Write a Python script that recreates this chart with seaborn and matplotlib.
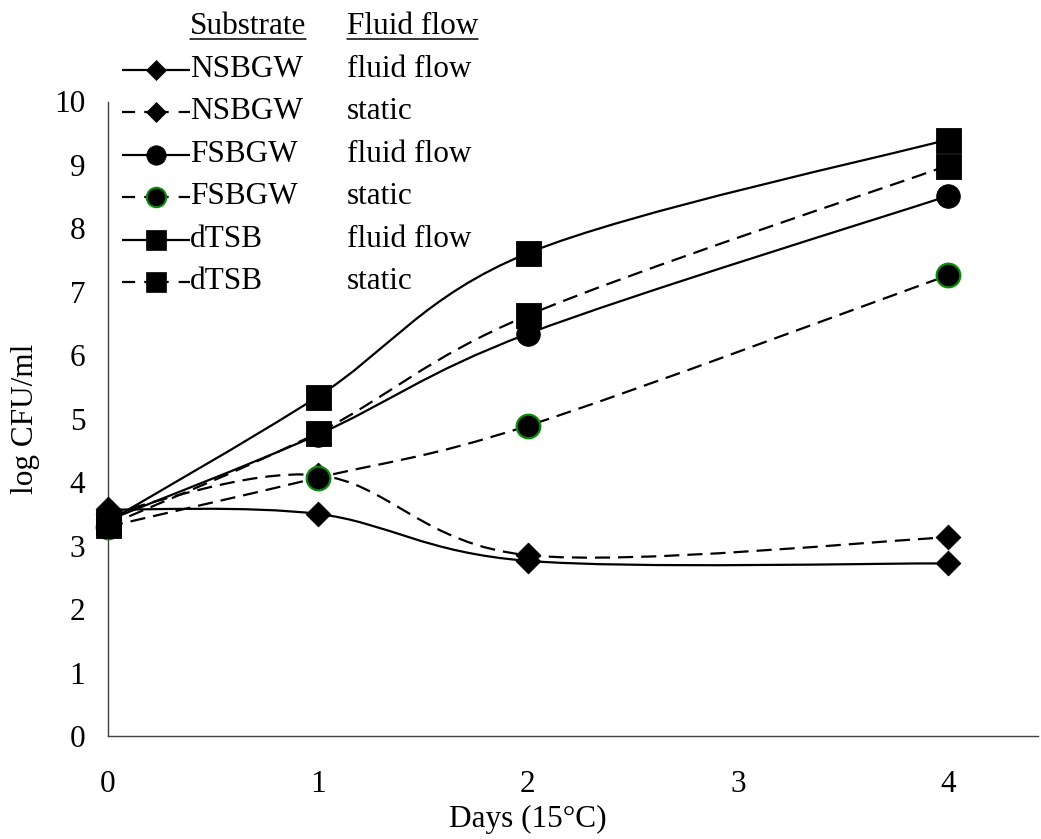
import numpy as np
import pandas as pd
import matplotlib
matplotlib.use("Agg")
import matplotlib.pyplot as plt
import seaborn as sns
from matplotlib.path import Path
from matplotlib.patches import PathPatch
from matplotlib.lines import Line2D

# ---------------- data ----------------
days = [0, 1, 2, 4]
substrates = ["NSBGW", "NSBGW", "FSBGW", "FSBGW", "dTSB", "dTSB"]
flows = ["fluid flow", "static", "fluid flow", "static", "fluid flow", "static"]
nsbgw_flow = [3.57, 3.50, 2.76, 2.72]
nsbgw_static = [3.50, 4.11, 2.85, 3.13]
fsbgw_flow = [3.40, 4.75, 6.34, 8.51]
fsbgw_static = [3.30, 4.07, 4.89, 7.26]
dtsb_flow = [3.38, 5.35, 7.61, 9.40]
dtsb_static = [3.32, 4.78, 6.63, 8.99]
series_values = [nsbgw_flow, nsbgw_static, fsbgw_flow, fsbgw_static, dtsb_flow, dtsb_static]
x_ticks = [0, 1, 2, 3, 4]
y_ticks = list(range(0, 11))
x_label = "Days (15°C)"
y_label = "log CFU/ml"
legend_headers = ["Substrate", "Fluid flow"]

# ---------------- styles ----------------
LW = 1.6
DASH = (0, (6.8, 3.6))
styles = [
    dict(marker="D", s=12.6 ** 2, ec="black", ls="-", lm=9.8),
    dict(marker="D", s=12.6 ** 2, ec="black", ls=DASH, lm=9.8),
    dict(marker="o", s=17.0 ** 2, ec="black", ls="-", lm=14.0),
    dict(marker="o", s=17.0 ** 2, ec="#0a8a0a", ls=DASH, lm=14.0),
    dict(marker="s", s=18.0 ** 2, ec="black", ls="-", lm=14.0),
    dict(marker="s", s=18.0 ** 2, ec="black", ls=DASH, lm=14.0),
]

sns.set_theme(style="white")
plt.rcParams["font.family"] = ["Liberation Serif", "DejaVu Serif"]
FS = 22.5

W, H = 1041, 839
fig = plt.figure(figsize=(W / 100, H / 100), dpi=100)
fig.patch.set_facecolor("white")


def px(x, y):
    return x / W, 1 - y / H


ax_left, ax_right, ax_top, ax_bottom = 108, 1038, 101.5, 736
ax = fig.add_axes([ax_left / W, 1 - ax_bottom / H,
                   (ax_right - ax_left) / W, (ax_bottom - ax_top) / H])
ax.set_facecolor("white")


def smooth_path(xs, ys):
    pts = np.column_stack([np.asarray(xs, float), np.asarray(ys, float)])
    n = len(pts)
    verts = [pts[0]]
    codes = [Path.MOVETO]
    for i in range(n - 1):
        p0 = pts[i - 1] if i > 0 else pts[i]
        p1 = pts[i]
        p2 = pts[i + 1]
        p3 = pts[i + 2] if i + 2 < n else pts[i + 1]
        c1 = p1 + (p2 - p0) / 6.0
        c2 = p2 - (p3 - p1) / 6.0
        verts += [c1, c2, p2]
        codes += [Path.CURVE4] * 3
    return Path(verts, codes)


# smoothed lines
for vals, st in zip(series_values, styles):
    patch = PathPatch(smooth_path(days, vals), fill=False, lw=LW,
                      linestyle=st["ls"], edgecolor="black", zorder=2,
                      capstyle="butt")
    ax.add_patch(patch)

# markers
for vals, st in zip(series_values, styles):
    df = pd.DataFrame({"day": days, "cfu": vals})
    sns.scatterplot(data=df, x="day", y="cfu", marker=st["marker"], s=st["s"],
                    color="black", edgecolor=st["ec"],
                    linewidth=1.6 if st["ec"] != "black" else 0.6,
                    ax=ax, zorder=3, clip_on=False, legend=False)

ax.set_xlim(0, 4.43)
ax.set_ylim(0, 10)
ax.set_xticks(x_ticks)
ax.set_yticks(y_ticks)
ax.set_xticklabels([str(t) for t in x_ticks])
ax.set_yticklabels([str(t) for t in y_ticks])
sns.despine(ax=ax)
for side in ["left", "bottom"]:
    ax.spines[side].set_color("#404040")
    ax.spines[side].set_linewidth(1.0)
ax.tick_params(axis="both", direction="out", length=6.8, width=0.9,
               color="#808080", labelcolor="black", labelsize=FS)
ax.tick_params(axis="x", pad=18)
ax.tick_params(axis="y", pad=9.5)
ax.grid(False)

ax.set_xlabel(x_label, fontsize=FS, color="black")
ax.xaxis.set_label_coords(2 / 4.43, -0.108)
ax.set_ylabel(y_label, fontsize=FS, color="black")
ax.yaxis.set_label_coords(-0.073, 0.5)

# ---------------- custom legend ----------------
col1_x, col2_x = 190, 347
header_base = 34
row_y = [70, 112.4, 154.8, 197.2, 239.6, 282]
line_x0, line_x1, mark_x = 122, 190, 156
LEG_DASH = (0, (5.9, 4.1, 11.0, 4.5, 5.5, 30))

hdr_texts = []
for hx, htxt in zip([col1_x, col2_x], legend_headers):
    t = fig.text(*px(hx, header_base), htxt, fontsize=FS, ha="left",
                 va="baseline", color="black")
    hdr_texts.append(t)

for i, st in enumerate(styles):
    y = row_y[i]
    ls = "-" if st["ls"] == "-" else LEG_DASH
    fig.add_artist(Line2D([line_x0 / W, line_x1 / W], [1 - y / H, 1 - y / H],
                          transform=fig.transFigure, color="black", lw=LW,
                          linestyle=ls, solid_capstyle="butt",
                          dash_capstyle="butt"))
    fig.add_artist(Line2D([mark_x / W], [1 - y / H], transform=fig.transFigure,
                          marker=st["marker"], markersize=st["lm"],
                          markerfacecolor="black", markeredgecolor=st["ec"],
                          markeredgewidth=1.5 if st["ec"] != "black" else 0.5,
                          linestyle="none"))
    fig.text(*px(col1_x, y + 7), substrates[i], fontsize=FS, ha="left",
             va="baseline", color="black")
    fig.text(*px(col2_x, y + 7), flows[i], fontsize=FS, ha="left",
             va="baseline", color="black")

fig.canvas.draw()
renderer = fig.canvas.get_renderer()
for t in hdr_texts:
    bb = t.get_window_extent(renderer)
    fig.add_artist(Line2D([bb.x0 / W, bb.x1 / W], [1 - 39 / H, 1 - 39 / H],
                          transform=fig.transFigure, color="black", lw=1.1))

fig.savefig("out.png", dpi=100, facecolor="white")
